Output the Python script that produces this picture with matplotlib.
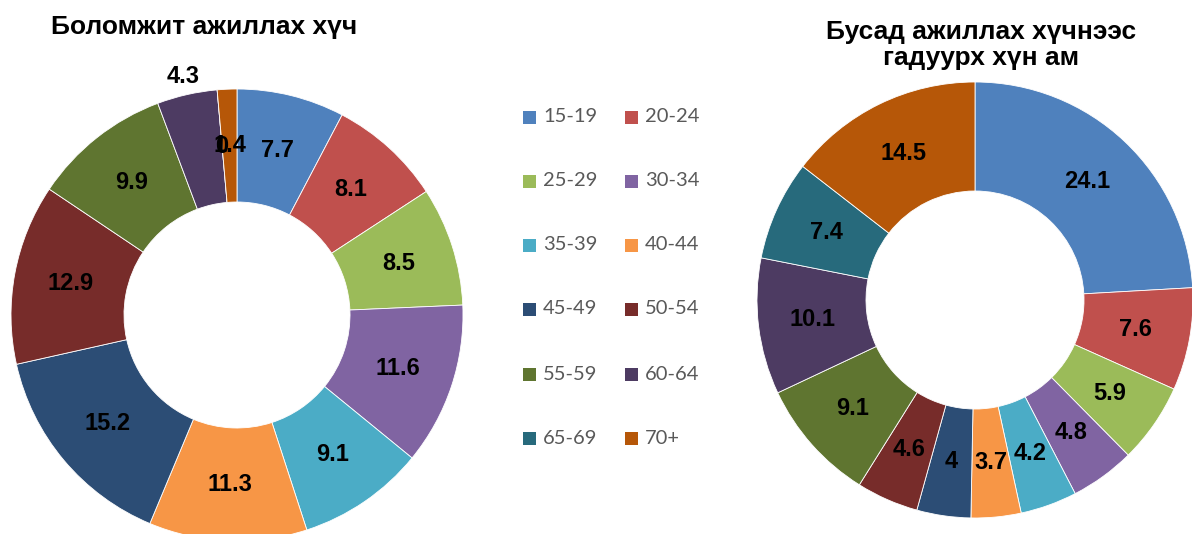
import numpy as np
import matplotlib
matplotlib.use("Agg")
import matplotlib.pyplot as plt
from matplotlib.patches import Rectangle

# age groups and the two distributions (%)
ages = ["15-19", "20-24", "25-29", "30-34", "35-39", "40-44",
        "45-49", "50-54", "55-59", "60-64", "65-69", "70+"]
labour = [7.7, 8.1, 8.5, 11.6, 9.1, 11.3, 15.2, 12.9, 9.9, 4.3, 0, 1.4]
outside = [24.1, 7.6, 5.9, 4.8, 4.2, 3.7, 4, 4.6, 9.1, 10.1, 7.4, 14.5]

colors = ["#4F81BD", "#C0504D", "#9BBB59", "#8064A2", "#4BACC6", "#F79646",
          "#2C4D75", "#772C2A", "#5F7530", "#4D3B62", "#276A7C", "#B65708"]

title_left = "Боломжит ажиллах хүч"
title_right = "Бусад ажиллах хүчнээс\nгадуурх хүн ам"

W, H = 1192, 534
fig = plt.figure(figsize=(W / 100, H / 100), dpi=100)
ax = fig.add_axes([0, 0, 1, 1])


def Y(y):
    # image pixel row -> data y
    return H - y


def donut(vals, cx, cy, r, outside_idx=()):
    ax.pie(vals, colors=colors, radius=r, center=(cx, Y(cy)),
           startangle=90, counterclock=False,
           wedgeprops=dict(width=r * 0.5, edgecolor="white", linewidth=0.6))
    total = float(sum(vals))
    cum = np.cumsum(vals) - np.array(vals) / 2.0
    for i, v in enumerate(vals):
        ang = np.deg2rad(90 - 360 * cum[i] / total)
        rl = r * (1.08 if i in outside_idx else 0.75)
        ax.text(cx + rl * np.cos(ang), Y(cy) + rl * np.sin(ang), f"{v:g}",
                ha="center", va="center", fontsize=17, fontweight="bold",
                family="Liberation Sans", color="black")


donut(labour, 237, 315, 226, outside_idx=(9,))
donut(outside, 975, 300, 218)

ax.text(204, Y(27), title_left, ha="center", va="center", fontsize=19,
        fontweight="bold", family="Liberation Sans")
ax.text(981, Y(45), title_right, ha="center", va="center", fontsize=19,
        fontweight="bold", family="Liberation Sans", linespacing=1.15)

# legend, two columns
rows = [117, 181, 245, 309, 374, 438]
cols = [523, 625]
for i, (name, c) in enumerate(zip(ages, colors)):
    x = cols[i % 2]
    y = rows[i // 2]
    ax.add_patch(Rectangle((x, Y(y) - 6.5), 13, 13, facecolor=c, edgecolor="none"))
    ax.text(x + 20, Y(y), name, ha="left", va="center", fontsize=14.5,
            family="Lato", color="#595959")

ax.set_xlim(0, W)
ax.set_ylim(0, H)
ax.set_aspect("equal")
ax.axis("off")

fig.savefig("out.png", dpi=100)
